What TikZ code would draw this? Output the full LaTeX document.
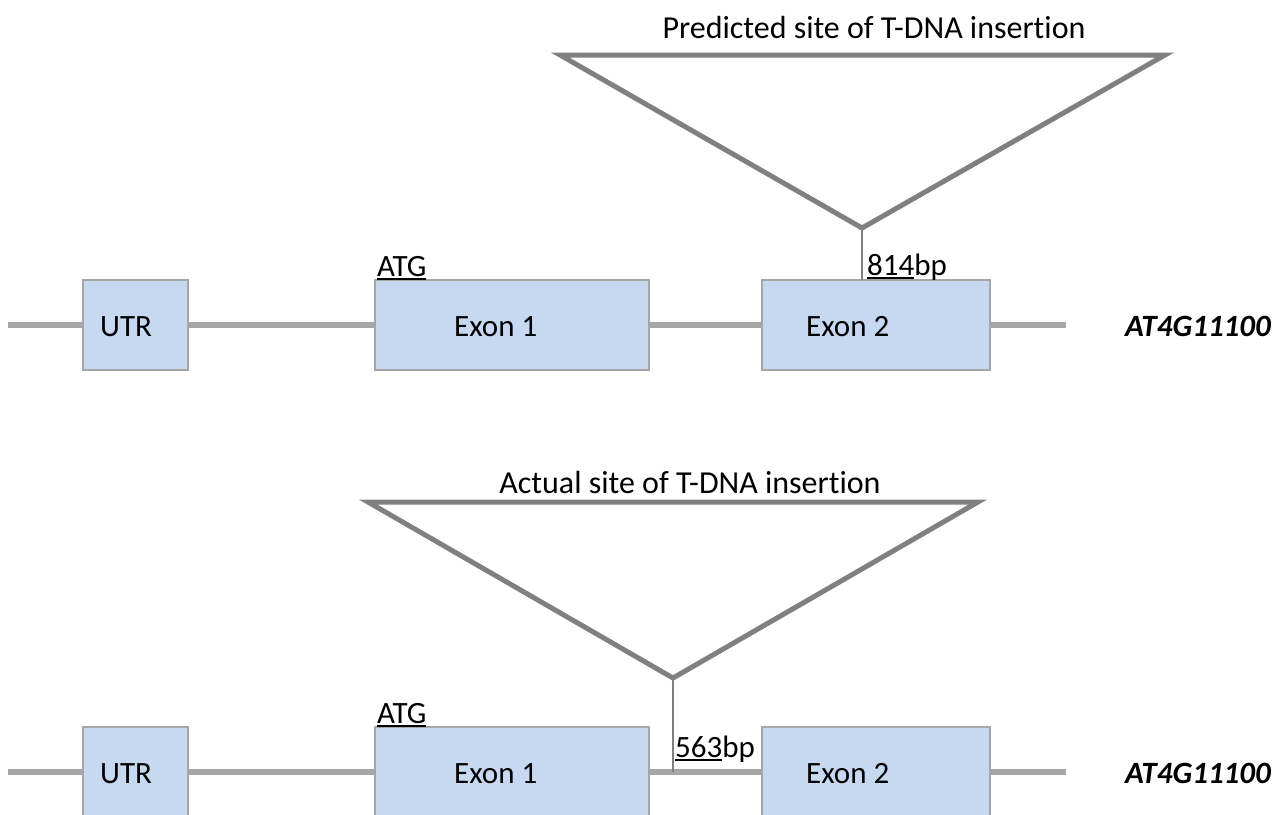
\documentclass[tikz,border=0pt]{standalone}
\usepackage{fontspec}
\setmainfont[Ligatures=NoCommon]{Carlito}
\newcommand{\thickul}[1]{\leavevmode\vtop{\hbox{#1}\kern1.5pt\hrule height 2pt}}
\begin{document}
\begin{tikzpicture}[x=1pt,y=-1pt]
  % Colors
    \definecolor{exonfill}{HTML}{C6D9F1}
    \definecolor{exonline}{HTML}{A6A6A6}
    \definecolor{tdnacolor}{HTML}{808080}

  % Styles
    \tikzstyle{exonbox}=[draw=exonline,fill=exonfill,line width=2.5pt,inner sep=0pt,outer sep=0pt,minimum height=90pt]
    \tikzstyle{backbone}=[draw=exonline,line width=5.5pt]
    \tikzstyle{tdna}=[draw=tdnacolor,line width=5pt]
    \tikzstyle{insertline}=[draw=tdnacolor,line width=2pt]
    \tikzstyle{genetext}=[anchor=base west,inner sep=0pt,font=\fontsize{31}{36}\selectfont]
    \tikzstyle{sitetext}=[anchor=base,inner sep=0pt,font=\fontsize{32}{38}\selectfont]

  % Frame
    \useasboundingbox (0,0) rectangle (1287,814);
    \clip (0,0) rectangle (1287,814);

  % The gene model, twice
    \foreach \row/\dy in {a/0,b/447} {
      \begin{scope}[yshift=-\dy pt]
        \coordinate (left\row) at (8,325);
        \coordinate (right\row) at (1066,325);
        \node[exonbox,minimum width=105pt] (utr\row) at (135.5,325) {};
        \node[exonbox,minimum width=274pt] (exonA\row) at (512,325) {};
        \node[exonbox,minimum width=228pt] (exonB\row) at (876,325) {};

        \draw[backbone] (left\row) -- (utr\row);
        \draw[backbone] (utr\row) -- (exonA\row);
        \draw[backbone] (exonA\row) -- (exonB\row);
        \draw[backbone] (exonB\row) -- (right\row);

        \node[genetext] (utrtext\row) at (100,336) {UTR};
        \node[genetext] (exonAtext\row) at (454,336) {Exon 1};
        \node[genetext] (exonBtext\row) at (806,336) {Exon 2};
        \node[genetext] (atg\row) at (377,276) {\thickul{ATG}};
        \node[genetext] (gene\row) at (1125,336) {\textbf{\textit{AT4G11100}}};
      \end{scope}
    }

  % Predicted insertion
    \coordinate (ptl) at (560,55);
    \coordinate (ptr) at (1165,55);
    \coordinate (papex) at (862,228);
    \draw[tdna] (ptl) -- (ptr) -- (papex) -- cycle;
    \draw[insertline] (papex) -- (papex |- exonBa.north);
    \node[sitetext] (predicted) at (874,38) {Predicted site of T-DNA insertion};
    \node[genetext] (bpa) at (867,275) {\thickul{814}bp};

  % Actual insertion
    \coordinate (atl) at (368,502);
    \coordinate (atr) at (978,502);
    \coordinate (aapex) at (673,678);
    \draw[tdna] (atl) -- (atr) -- (aapex) -- cycle;
    \draw[insertline] (aapex) -- (aapex |- leftb);
    \node[sitetext] (actual) at (690,493) {Actual site of T-DNA insertion};
    \node[genetext] (bpb) at (675,757) {\thickul{563}bp};
\end{tikzpicture}
\end{document}
